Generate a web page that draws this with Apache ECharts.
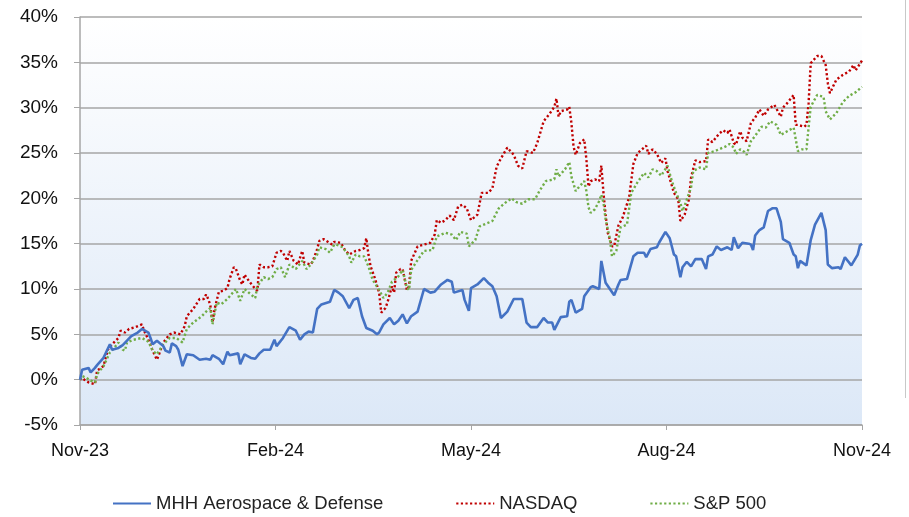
<!DOCTYPE html>
<html>
<head>
<meta charset="utf-8">
<script src="https://cdn.jsdelivr.net/npm/echarts@6.0.0/dist/echarts.min.js"></script>
<style>
  html, body { margin: 0; padding: 0; background: #fff; }
  #chart { width: 909px; height: 517px; }
</style>
</head>
<body>
<div id="chart"></div>
<script>
// x = days since 1 Nov 2023, y = cumulative return in %
const tickLabels = ['Nov-23', 'Feb-24', 'May-24', 'Aug-24', 'Nov-24']

const mhhDays = [0,1,4,5,7,8,11,14,15,18,20,22,24,27,29,32,33,34,36,39,40,42,43,45,46,48,50,53,56,59,61,62,65,67,69,70,74,75,77,80,82,84,86,89,91,92,95,98,101,103,105,107,109,111,113,117,119,121,123,126,128,130,132,134,137,139,140,142,145,147,149,151,153,155,158,161,164,166,169,172,174,175,179,180,182,183,186,189,191,193,195,197,200,203,207,209,211,214,217,219,221,222,225,228,229,230,232,235,236,239,240,243,244,246,250,252,253,256,259,261,264,265,267,270,271,274,276,278,279,281,282,284,286,288,291,293,294,296,298,300,303,305,306,308,310,313,314,315,316,318,320,322,324,326,328,329,332,334,335,336,337,340,342,344,347,349,350,352,355,356,358,361,364,365,366]
const mhhValues = [0,1.1,1.3,0.8,1.3,1.6,2.4,3.9,3.3,3.5,3.8,4.3,4.8,5.2,5.6,5.2,4.6,3.9,4.3,3.7,3.2,3.0,4.0,3.7,3.3,1.5,2.8,2.7,2.2,2.3,2.2,2.7,2.3,1.7,3.1,2.7,2.9,1.7,2.8,2.4,2.3,2.9,3.3,3.3,4.4,3.7,4.6,5.8,5.4,4.4,5.0,5.3,5.2,7.8,8.3,8.6,9.9,9.6,9.2,7.9,8.8,9.0,7.0,5.7,5.4,5.0,5.2,6.1,6.8,6.1,6.5,7.2,6.2,7.0,7.5,10.0,9.6,9.7,10.5,11.0,10.8,9.6,9.9,8.8,7.6,10.1,10.5,11.2,10.7,10.3,9.2,6.8,7.5,8.9,8.9,6.3,5.8,5.8,6.8,6.3,6.3,5.5,6.9,7.0,8.6,8.8,7.4,7.8,9.2,10.2,10.3,10.0,13.1,10.7,9.3,10.5,11.0,11.1,13.6,14.0,14.0,13.5,14.4,14.6,15.1,16.3,15.6,13.8,13.6,11.3,12.4,13.0,12.5,13.3,13.3,12.2,13.6,13.8,14.7,14.3,14.6,14.3,15.7,14.5,15.1,15.0,14.9,14.3,15.9,16.5,16.8,18.6,18.9,18.9,17.4,15.5,15.1,13.8,13.6,12.3,13.1,12.6,15.4,17.1,18.4,16.5,12.7,12.3,12.4,12.2,13.5,12.6,13.8,14.8,15.0]

const nasdaqDays = [0,1,2,4,7,8,11,13,15,18,19,21,23,26,29,30,32,34,36,37,39,42,44,47,49,50,53,56,58,59,60,61,62,63,65,67,69,70,72,73,75,76,77,79,81,83,84,86,88,90,92,94,95,97,98,100,102,104,105,108,109,111,112,114,116,118,119,122,124,126,129,131,133,134,135,136,138,140,141,143,144,146,147,148,150,151,153,154,155,158,161,164,166,167,169,171,173,175,177,179,181,183,186,188,191,193,195,197,200,203,205,207,209,212,214,217,220,222,223,224,225,228,229,230,231,232,234,236,237,238,239,241,243,244,245,246,247,249,250,252,254,257,259,261,264,265,266,268,270,272,274,275,278,280,281,283,285,286,288,290,293,294,296,299,301,303,304,306,307,309,310,312,314,316,318,320,322,325,328,329,331,334,335,336,339,340,341,342,345,347,349,350,351,354,357,360,362,363,366]
const nasdaqValues = [0,0.2,0.0,-0.3,-0.5,1.0,1.5,3.3,3.9,4.6,5.4,5.2,5.6,5.8,6.1,5.4,4.4,3.2,2.2,2.8,4.1,5.0,5.2,5.0,5.9,7.0,7.8,8.9,8.9,9.4,8.9,8.2,6.3,7.8,9.7,9.8,10.1,11.1,12.4,12.2,10.9,10.5,11.6,10.9,10.3,9.8,12.7,12.4,12.4,12.5,14.0,14.2,14.0,13.1,14.2,13.1,12.7,14.2,12.9,12.7,13.1,14.4,15.3,15.5,15.2,14.9,15.2,15.1,14.3,13.8,14.2,14.3,14.5,15.6,13.8,12.5,11.2,9.6,7.4,7.9,8.6,10.3,9.6,11.8,12.2,12.2,9.9,10.3,13.1,14.7,14.9,15.1,16.0,17.6,17.3,17.6,18.1,17.6,19.1,19.3,18.9,17.6,18.2,20.6,20.6,21.1,23.5,24.4,25.6,24.8,23.6,23.3,25.2,25.0,26.1,28.5,29.4,30.1,31.0,29.0,29.6,29.8,30.1,28.3,25.7,24.8,26.1,26.5,24.3,21.3,21.9,22.1,21.9,23.6,20.6,18.2,16.2,14.7,14.7,17.0,17.9,20.1,23.8,25.0,25.6,25.8,24.9,25.4,24.9,23.9,24.4,23.0,20.6,19.9,17.5,18.2,19.9,22.3,24.2,24.0,24.1,26.5,26.2,27.1,27.5,27.2,27.6,26.1,25.9,27.4,26.7,26.3,28.3,28.9,29.8,29.1,29.8,30.3,29.0,30.0,30.5,31.4,28.1,28.1,27.9,28.1,30.5,34.9,35.7,35.7,34.7,32.7,31.6,33.1,33.6,34.0,34.7,34.1,35.2]

const spDays = [0,1,3,5,7,8,11,14,16,18,20,21,22,25,29,32,34,36,39,42,45,48,50,53,57,59,61,62,64,66,69,73,75,77,80,82,83,86,88,90,92,94,96,98,101,104,106,108,111,112,115,117,119,120,123,126,127,129,131,133,135,137,140,142,144,146,149,151,153,154,155,158,161,165,167,171,174,176,178,181,182,185,187,190,193,196,199,202,204,207,210,213,215,218,222,223,224,227,229,230,232,233,236,237,238,239,241,243,244,245,246,248,249,251,253,256,258,261,264,266,268,270,272,275,277,279,281,282,283,286,287,290,293,294,297,299,302,304,306,307,309,311,312,314,316,319,321,323,326,328,331,334,336,338,340,341,342,345,348,349,351,354,357,360,363,365,366]
const spValues = [0,0.4,0.2,-0.1,-0.3,0.6,1.5,3.0,3.5,4.1,3.3,3.2,4.1,4.4,4.6,4.2,3.2,2.8,3.9,4.6,4.6,4.1,5.6,6.3,7.0,7.5,7.9,6.1,8.5,8.3,8.9,10.0,8.7,10.0,9.4,9.0,10.3,11.3,11.1,11.3,12.2,12.4,11.3,12.7,12.2,13.1,12.2,12.7,13.8,14.6,14.4,14.0,14.9,14.9,14.6,13.6,12.9,13.8,13.6,13.6,12.5,11.0,9.9,9.0,9.6,10.8,11.4,12.1,10.1,9.9,12.1,13.2,14.2,14.3,15.8,16.2,16.0,15.4,16.3,16.1,14.7,15.4,16.9,17.2,17.5,18.9,19.5,20.0,19.6,19.4,19.9,19.9,20.8,21.9,22.1,23.2,22.4,23.2,24.0,22.4,20.8,21.1,21.9,20.8,19.0,18.4,18.8,19.7,20.4,19.5,17.7,15.5,13.6,14.2,16.8,17.1,20.6,21.8,22.8,22.3,23.2,23.0,22.5,23.6,21.9,20.6,19.5,18.6,19.2,21.2,23.0,23.4,23.2,25.0,25.2,25.4,25.7,26.0,25.6,24.9,25.4,25.1,24.8,26.3,26.9,27.9,27.8,28.5,28.1,27.0,27.4,27.8,25.2,25.4,25.4,27.8,30.1,31.4,31.2,29.6,28.7,29.4,30.6,31.3,31.7,32.1,32.3]

const pairs = (xs, ys) => xs.map((d, i) => [d, ys[i]])

const font = 'Liberation Sans'
const gridColor = '#a6a6a6'

const chart = echarts.init(document.getElementById('chart'))

chart.setOption({
  animation: false,
  backgroundColor: '#fff',
  textStyle: { fontFamily: font },
  grid: {
    left: 80, right: 47, top: 17, bottom: 92,
    show: true,
    borderWidth: 0,
    backgroundColor: new echarts.graphic.LinearGradient(0, 0, 0, 1, [
      { offset: 0, color: '#ffffff' },
      { offset: 1, color: '#dce8f7' }
    ])
  },
  // thin frame edge at the right of the picture
  graphic: [{
    type: 'line',
    shape: { x1: 905.5, y1: 0, x2: 905.5, y2: 398 },
    style: { stroke: '#c8c8c8', lineWidth: 1 }
  }],
  legend: {
    left: 107, top: 489,
    itemWidth: 38, itemHeight: 12, itemGap: 72,
    itemStyle: { opacity: 0 },
    textStyle: { fontFamily: font, fontSize: 18.5, color: '#222' },
    data: ['MHH Aerospace & Defense', 'NASDAQ', 'S&P 500']
  },
  xAxis: {
    type: 'value',
    min: 0, max: 366, interval: 91.5,
    axisLine: { onZero: false, lineStyle: { color: gridColor, width: 1.5 } },
    axisTick: { show: true, length: 5, lineStyle: { color: gridColor } },
    splitLine: { show: false },
    axisLabel: {
      margin: 17, fontSize: 18, color: '#111', fontFamily: font,
      showMaxLabel: true, showMinLabel: true,
      formatter: v => tickLabels[Math.round(v / 91.5)]
    }
  },
  yAxis: {
    type: 'value',
    min: -5, max: 40, interval: 5,
    axisLine: { show: true, lineStyle: { color: gridColor, width: 1.5 } },
    axisTick: { show: true, length: 6, lineStyle: { color: gridColor } },
    splitLine: { lineStyle: { color: gridColor, width: 1.5 } },
    axisLabel: { margin: 22, fontSize: 19, color: '#111', fontFamily: font, formatter: '{value}%' }
  },
  series: [
    {
      name: 'MHH Aerospace & Defense', type: 'line', symbol: 'none',
      data: pairs(mhhDays, mhhValues),
      lineStyle: { color: '#4472c4', width: 2.6 },
      itemStyle: { color: '#4472c4' },
      z: 3
    },
    {
      name: 'NASDAQ', type: 'line', symbol: 'none',
      data: pairs(nasdaqDays, nasdaqValues),
      lineStyle: { color: '#c00000', width: 2.4, type: [2.2, 2.4] },
      itemStyle: { color: '#c00000' },
      z: 2
    },
    {
      name: 'S&P 500', type: 'line', symbol: 'none',
      data: pairs(spDays, spValues),
      lineStyle: { color: '#70ad47', width: 2.4, type: [2.2, 2.4] },
      itemStyle: { color: '#70ad47' },
      z: 2
    }
  ]
})
</script>
</body>
</html>
